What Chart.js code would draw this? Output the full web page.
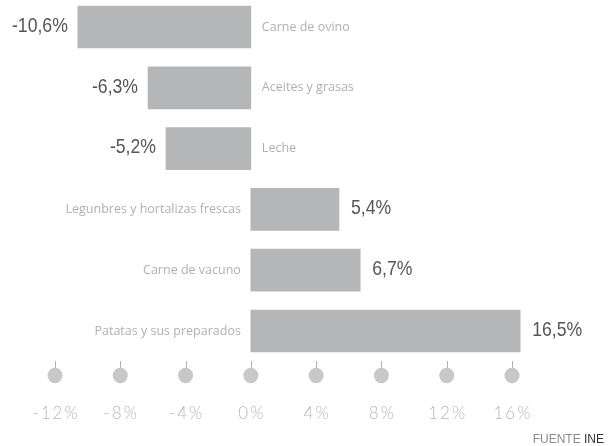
<!DOCTYPE html>
<html>
<head>
<meta charset="utf-8">
<script src="https://cdn.jsdelivr.net/npm/chart.js@4/dist/chart.umd.min.js"></script>
<style>
  body { margin: 0; background: #fff; }
  #wrap { position: relative; width: 611px; height: 446px; }
  #fuente { position: absolute; right: 7px; top: 432px; font: 12px 'Liberation Sans', sans-serif; color: #8a8a8a; }
  #fuente b { font-weight: normal; color: #333; }
</style>
</head>
<body>
<div id="wrap">
  <canvas id="chart" width="611" height="446"></canvas>
  <div id="fuente">FUENTE <b>INE</b></div>
</div>
<script>
const categories = [
  'Carne de ovino',
  'Aceites y grasas',
  'Leche',
  'Legunbres y hortalizas frescas',
  'Carne de vacuno',
  'Patatas y sus preparados'
];
const changes = [-10.6, -6.3, -5.2, 5.4, 6.7, 16.5];
const xMin = -12;
const xMax = 16;
const xStep = 4;

function pct(v) {
  return v.toFixed(1).replace('.', ',') + '%';
}

// labels next to each bar: value at the bar end, category on the other side of zero
const barLabels = {
  id: 'barLabels',
  afterDatasetsDraw(chart) {
    const ctx = chart.ctx;
    const meta = chart.getDatasetMeta(0);
    meta.data.forEach((el, i) => {
      const v = changes[i];
      // condensed value label
      ctx.save();
      ctx.font = '21px "Liberation Sans", sans-serif';
      ctx.fillStyle = '#555';
      ctx.textBaseline = 'middle';
      const sx = 0.84;
      if (v < 0) {
        ctx.textAlign = 'right';
        ctx.translate(el.x - 10, el.y - 1);
      } else {
        ctx.textAlign = 'left';
        ctx.translate(el.x + 12, el.y - 1);
      }
      ctx.scale(sx, 1);
      ctx.fillText(pct(v), 0, 0);
      ctx.restore();

      ctx.save();
      ctx.font = '12.5px "Open Sans", sans-serif';
      ctx.fillStyle = '#b0b0b0';
      ctx.textBaseline = 'middle';
      if (v < 0) {
        ctx.textAlign = 'left';
        ctx.fillText(categories[i], el.base + 11, el.y);
      } else {
        ctx.textAlign = 'right';
        ctx.fillText(categories[i], el.base - 10, el.y);
      }
      ctx.restore();
    });
  }
};

// x axis drawn as round markers with labels, from the scale's own ticks
const tickDots = {
  id: 'tickDots',
  afterDraw(chart) {
    const ctx = chart.ctx;
    const scale = chart.scales.x;
    const y0 = chart.chartArea.bottom;
    ctx.save();
    scale.ticks.forEach(t => {
      const px = scale.getPixelForValue(t.value);
      ctx.strokeStyle = '#b0b0b0';
      ctx.lineWidth = 1;
      ctx.beginPath();
      ctx.moveTo(Math.round(px) + 0.5, y0 + 30);
      ctx.lineTo(Math.round(px) + 0.5, y0 + 38);
      ctx.stroke();
      ctx.fillStyle = '#c8c8c8';
      ctx.beginPath();
      ctx.ellipse(px, y0 + 44.5, 7.5, 7.8, 0, 0, Math.PI * 2);
      ctx.fill();

      ctx.font = '300 17px Lato, sans-serif';
      ctx.fillStyle = '#b8b8b8';
      ctx.letterSpacing = '2px';
      ctx.textAlign = 'center';
      ctx.textBaseline = 'middle';
      ctx.fillText(t.value + '%', px + 1, y0 + 83);
    });
    ctx.restore();
  }
};

new Chart(document.getElementById('chart'), {
  type: 'bar',
  data: {
    labels: categories,
    datasets: [{
      data: changes,
      backgroundColor: '#b5b6b8',
      barThickness: 42,
      clip: false
    }]
  },
  options: {
    indexAxis: 'y',
    responsive: false,
    animation: false,
    devicePixelRatio: 1,
    layout: { padding: { top: 27, left: 55, right: 99, bottom: 115 } },
    plugins: { legend: { display: false }, tooltip: { enabled: false } },
    scales: {
      y: { display: false, offset: false },
      x: {
        display: false,
        min: xMin,
        max: xMax,
        ticks: { stepSize: xStep }
      }
    }
  },
  plugins: [barLabels, tickDots]
});
</script>
</body>
</html>
